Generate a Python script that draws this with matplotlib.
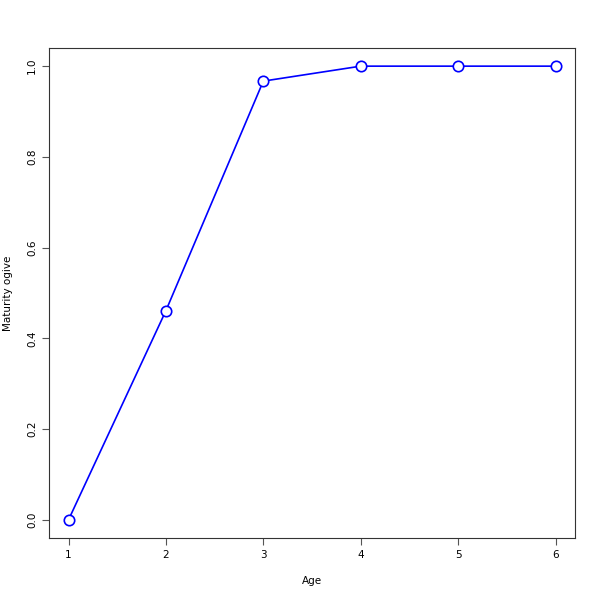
import matplotlib
matplotlib.use('Agg')
import matplotlib.pyplot as plt

# maturity ogive by age
ages = [1, 2, 3, 4, 5, 6]
maturity = [0.0, 0.461, 0.967, 1.0, 1.0, 1.0]

fig = plt.figure(figsize=(6, 6), dpi=100)
ax = fig.add_axes([0.0817, 0.1033, 0.8766, 0.8167])

ax.plot(ages, maturity, color='blue', lw=1.2, marker='o', ms=7.5,
        mfc='white', mec='blue', mew=1.2)

ax.set_xlim(0.8, 6.2)
ax.set_ylim(-0.04, 1.04)
ax.set_xticks(ages)
ax.set_yticks([0.0, 0.2, 0.4, 0.6, 0.8, 1.0])
ax.set_yticklabels(['0.0', '0.2', '0.4', '0.6', '0.8', '1.0'], rotation=90, va='center')
ax.tick_params(labelsize=7.5, length=5, color='#555555')
ax.set_xlabel('Age', fontsize=7.5, labelpad=12)
ax.set_ylabel('Maturity ogive', fontsize=7.5, labelpad=10)
for s in ax.spines.values():
    s.set_color('#333333')

fig.savefig('out.png', dpi=100)
